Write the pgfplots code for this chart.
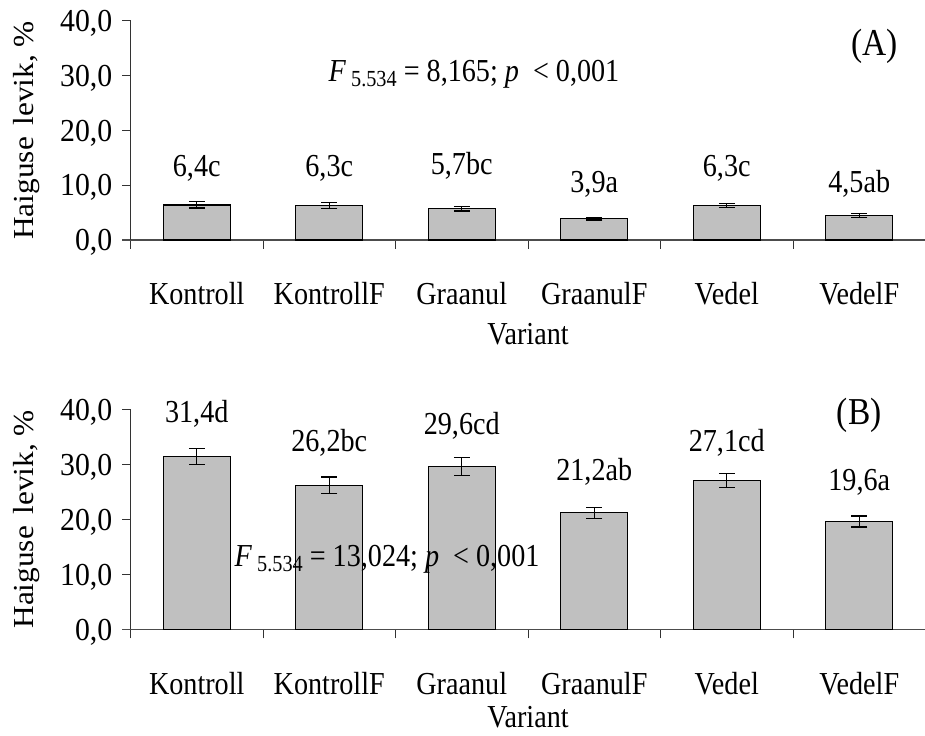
\documentclass[border=0pt]{standalone}
\usepackage{fontspec}
\setmainfont{Liberation Serif}[FakeStretch=0.88]
\newfontfamily\ylfont{Liberation Serif}[FakeStretch=1.08]
\newfontfamily\numfont{Liberation Serif}[FakeStretch=0.93]
\usepackage{pgfplots}
\usepackage{pgfplotstable}
\pgfplotsset{compat=1.18}
\definecolor{barg}{RGB}{192,192,192}
\newcommand\fn{\fontsize{32bp}{32bp}\selectfont}
\newcommand\fnum{\fontsize{32bp}{32bp}\numfont}
\newcommand\fs{\fontsize{23bp}{23bp}\selectfont}

\pgfplotstableread{
x val err ly lab
0 6.4 0.55 11.6 6,4c
1 6.3 0.60 11.6 6,3c
2 5.7 0.40 11.9 5,7bc
3 3.9 0.25 8.6 3,9a
4 6.3 0.40 11.6 6,3c
5 4.5 0.35 8.6 4,5ab
}\dataA
\pgfplotstableread{
x val err ly lab
0 31.4 1.5 37.6 31,4d
1 26.2 1.5 32.3 26,2bc
2 29.6 1.6 35.5 29,6cd
3 21.2 1.0 27.1 21,2ab
4 27.1 1.3 32.3 27,1cd
5 19.6 1.0 25.3 19,6a
}\dataB

\pgfplotsset{panel/.style={
  scale only axis, width=795bp,
  xmin=-0.5, xmax=5.5, ymin=0, ymax=40,
  axis x line*=bottom, axis y line*=left,
  x axis line style={draw=black!70, line width=1.2bp, shorten <=-8bp},
  y axis line style={draw=black!80, line width=0.8bp},
  xtick={0,...,5},
  xticklabels={Kontroll,KontrollF,Graanul,GraanulF,Vedel,VedelF},
  minor xtick={-0.5,0.5,...,5.5},
  major x tick style={draw=none},
  minor x tick style={draw=black!80, line width=0.8bp},
  minor tick length=9bp,
  ytick={0,10,...,40},
  major tick length=8bp,
  tick align=outside,
  major y tick style={draw=black!80, line width=0.8bp},
  xticklabel style={font=\fn, anchor=base, inner sep=0pt, yshift=-57bp},
  yticklabel style={font=\fnum, anchor=base east, inner sep=0pt, xshift=-10bp, yshift=-10.8bp},
  /pgf/number format/.cd, fixed, fixed zerofill, precision=1, use comma, assume math mode=true,
  /pgfplots/.cd,
  xlabel={Variant},
  ylabel={Haiguse\hspace{0.4em}levik, \%},
  every axis x label/.style={at={(axis description cs:0.5,0)}, anchor=base, font=\fn, inner sep=0pt, yshift=-98.5bp},
  every axis y label/.style={at={(axis description cs:-0.1226,0.5)}, anchor=base, rotate=90, font=\fontsize{29bp}{29bp}\ylfont, inner sep=0pt},
  clip=false,
}}
\pgfplotsset{barstyle/.style={ybar, bar width=67bp, fill=barg, draw=black, line width=1.2bp,
  error bars/.cd, y dir=both, y explicit,
  error bar style={line width=1.2bp, black},
  error mark options={rotate=90, mark size=8bp, line width=1.2bp, black}}}
\pgfplotsset{labstyle/.style={draw=none, mark=none, nodes near coords, point meta=explicit symbolic,
  every node near coord/.style={anchor=base, font=\fn, inner sep=0pt, black}}}

\begin{document}
\begin{tikzpicture}
\useasboundingbox (0,0) rectangle (925bp,736bp);
\begin{axis}[panel, height=219.3bp, at={(130.5bp,496bp)}, anchor=south west,
  every axis x label/.append style={yshift=-6bp}]
\addplot[barstyle] table[x=x, y=val, y error=err] {\dataA};
\addplot[labstyle] table[x=x, y=ly, meta=lab] {\dataA};
\node[anchor=base west, font=\fn, inner sep=0pt] at (axis cs:0.994,28.9)
  {{\itshape F}\,\raisebox{-4.5bp}{\fs 5.534} = 8,165; {\itshape p}\ \ {<} 0,001};
\node[anchor=base west, font=\fontsize{38bp}{38bp}\selectfont, inner sep=0pt] at (axis cs:4.94,33.6) {(A)};
\end{axis}
\begin{axis}[panel, height=220bp, at={(130.5bp,106.7bp)}, anchor=south west]
\addplot[barstyle] table[x=x, y=val, y error=err] {\dataB};
\addplot[labstyle] table[x=x, y=ly, meta=lab] {\dataB};
\node[anchor=base west, font=\fn, inner sep=0pt] at (axis cs:0.285,11.4)
  {{\itshape F}\,\raisebox{-4.5bp}{\fs 5.534} = 13,024; {\itshape p}\ \ {<} 0,001};
\node[anchor=base west, font=\fontsize{38bp}{38bp}\selectfont, inner sep=0pt] at (axis cs:4.83,37.3) {(B)};
\end{axis}
\end{tikzpicture}
\end{document}
